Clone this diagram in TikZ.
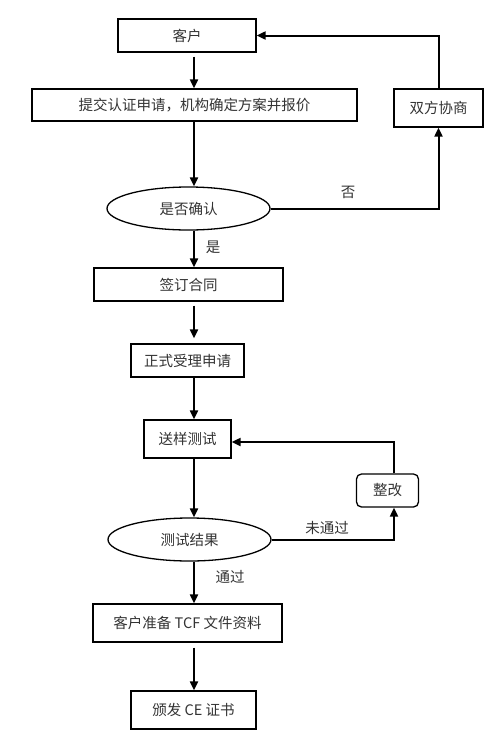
\documentclass[tikz,border=0pt]{standalone}
\usepackage{fontspec}
\newfontfamily\cjk{Noto Sans CJK SC}
\usetikzlibrary{shapes.geometric,arrows.meta}
\tikzset{
  box/.style={draw=black, line width=1.3pt, rectangle, inner sep=0pt, font=\cjk\fontsize{14.5}{16}\selectfont, text=black!80},
  rbox/.style={box, rounded corners=5pt},
  oval/.style={draw=black, line width=1.3pt, ellipse, inner sep=0pt, font=\cjk\fontsize{14.5}{16}\selectfont, text=black!80},
  arr/.style={line width=2pt, -{Triangle[length=9pt,width=8pt]}},
  lbl/.style={font=\cjk\fontsize{14.5}{16}\selectfont, text=black!80, inner sep=0pt}
}
\begin{document}
\begin{tikzpicture}[x=1pt,y=-1pt]
\fill[white] (0,0) rectangle (496,745);
\useasboundingbox (0,0) rectangle (496,745);
\coordinate (sp) at (194,0);
\coordinate (sp2) at (394,0);
\node[box, minimum width=138pt, minimum height=33pt] (kehu) at (187,35.5) {客户};
\node[box, minimum width=325pt, minimum height=32pt] (tijiao) at (194.5,105) {提交认证申请，机构确定方案并报价};
\node[box, minimum width=89pt, minimum height=38pt] (xieshang) at (438.5,108) {双方协商};
\node[oval, minimum width=163pt, minimum height=43pt] (queren) at (188.5,208.5) {是否确认};
\node[box, minimum width=189pt, minimum height=33pt] (hetong) at (188.5,284.5) {签订合同};
\node[box, minimum width=113pt, minimum height=33pt] (shouli) at (187.5,360.5) {正式受理申请};
\node[box, minimum width=87pt, minimum height=38pt] (songyang) at (187.5,439) {送样测试};
\node[rbox, minimum width=62pt, minimum height=33pt] (zhenggai) at (387.5,490.5) {整改};
\node[oval, minimum width=163pt, minimum height=43pt] (jieguo) at (189.5,539.5) {测试结果};
\node[box, minimum width=189pt, minimum height=38pt] (tcf) at (187.5,623) {客户准备 TCF 文件资料};
\node[box, minimum width=125pt, minimum height=38pt] (ce) at (193.5,710) {颁发 CE 证书};

\draw[arr] ([yshift=-4pt]kehu.south -| sp) -- (tijiao.north -| sp);
\draw[arr] (tijiao.south -| sp) -- (sp |- queren.north);
\draw[arr] (sp |- queren.south) -- (hetong.north -| sp);
\draw[arr] ([yshift=-4pt]hetong.south -| sp) -- ([yshift=5pt]shouli.north -| sp);
\draw[arr] (shouli.south -| sp) -- (songyang.north -| sp);
\draw[arr] (songyang.south -| sp) -- (sp |- jieguo.north);
\draw[arr] (sp |- jieguo.south) -- (tcf.north -| sp);
\draw[arr] ([yshift=-5pt]tcf.south -| sp) -- (ce.north -| sp);

\draw[arr] (xieshang.north) |- (kehu.east);
\draw[arr] (queren.east) -| (xieshang.south);
\draw[arr] (zhenggai.north -| sp2) |- ([yshift=-3pt]songyang.east);
\draw[arr] (jieguo.east) -| (zhenggai.south -| sp2);

\node[lbl] (fou) at (348,192) {否};
\node[lbl] (shi) at (213,247) {是};
\node[lbl] (weitg) at (327,528) {未通过};
\node[lbl] (tg) at (230,577) {通过};
\end{tikzpicture}
\end{document}
